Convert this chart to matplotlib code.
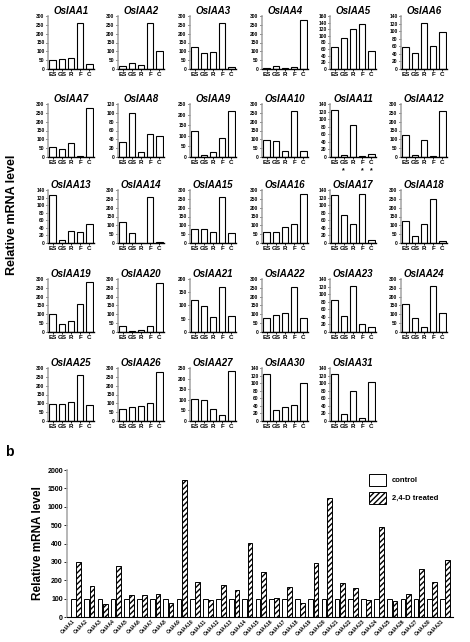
import matplotlib
matplotlib.use("Agg")
import matplotlib.pyplot as plt
import numpy as np

plt.rcParams['font.family'] = ['Liberation Sans', 'DejaVu Sans']

genes = ["OsIAA1","OsIAA2","OsIAA3","OsIAA4","OsIAA5","OsIAA6","OsIAA7","OsIAA8","OsIAA9","OsIAA10",
         "OsIAA11","OsIAA12","OsIAA13","OsIAA14","OsIAA15","OsIAA16","OsIAA17","OsIAA18","OsIAA19","OsIAA20",
         "OsIAA21","OsIAA22","OsIAA23","OsIAA24","OsIAA25","OsIAA26","OsIAA27","OsIAA30","OsIAA31"]
tissues = ["ES","GS","R","F","C"]
tissue_vals = [
 [50,57,62,260,30],[18,33,22,260,100],[125,92,97,260,10],[8,18,8,13,275],[65,93,120,135,53],[58,43,122,61,97],
 [55,45,82,5,278],[33,100,11,53,47],[125,8,22,88,218],[95,90,32,262,32],[125,5,85,2,7],[125,12,97,7,262],
 [127,8,32,30,50],[120,57,2,260,8],[78,78,60,258,55],[65,65,88,105,278],[127,75,51,129,7],[125,40,107,250,12],
 [103,48,65,160,282],[35,5,10,35,278],[120,98,57,170,60],[78,98,110,255,78],[85,42,122,20,12],[160,78,28,262,110],
 [97,97,107,258,92],[68,78,83,100,280],[103,100,57,28,237],[125,30,37,42,100],[125,18,78,7,103]]
ymaxes = [300,300,300,300,160,140,300,120,250,300,140,300,140,300,300,300,140,300,300,300,200,300,140,300,300,300,250,140,140]

control = [100]*29
treated = [300,170,70,275,120,120,125,75,1720,190,90,175,148,405,245,105,165,75,295,1230,185,160,92,490,88,125,262,190,310]

W, H = 470, 642
fig = plt.figure(figsize=(W/100, H/100), dpi=100)

def axpx(l, t, w, h):
    return fig.add_axes([l/W, 1-(t+h)/H, w/W, h/H])

col_left = [48, 118, 190, 262, 330, 401]
row_top = [16, 104, 190, 279, 368]
aw, ah = 46, 53
for i, g in enumerate(genes):
    r, c = divmod(i, 6)
    ax = axpx(col_left[c], row_top[r], aw, ah)
    x = np.arange(5)
    ax.bar(x, tissue_vals[i], width=0.7, color='white', edgecolor='black', linewidth=0.8)
    ax.set_xlim(-0.5, 4.5)
    ym = ymaxes[i]
    step = 50 if ym in (300, 250, 200) else 20
    ax.set_ylim(0, ym)
    ax.set_yticks(np.arange(0, ym+1, step))
    ax.set_xticks(x)
    ax.set_xticklabels(tissues)
    ax.tick_params(labelsize=3.5, length=1.5, width=0.6, pad=1)
    for lab in ax.get_xticklabels():
        lab.set_fontsize(4.5); lab.set_fontweight('bold')
    for lab in ax.get_yticklabels():
        lab.set_fontweight('bold')
    for s in ['top','right']:
        ax.spines[s].set_visible(False)
    ax.spines['left'].set_color('#aaaaaa'); ax.spines['left'].set_linewidth(1.2)
    ax.spines['bottom'].set_linewidth(1.0)
    ax.set_title(g, fontsize=7, fontweight='bold', fontstyle='italic', pad=1)
    if g == "OsIAA11":
        for xi in (1, 3, 4):
            ax.text(xi, -0.2*ym, '*', ha='center', va='top', fontsize=5, fontweight='bold')

fig.text(12/W, 1-215/H, "Relative mRNA level", rotation=90, ha='center', va='center', fontsize=9, fontweight='bold')
fig.text(5/W, 1-452/H, "b", fontsize=10, fontweight='bold', ha='left', va='center')

def fwd(y):
    y = np.asarray(y, float)
    return np.where(y <= 500, y, 500 + (y-500)/5)
def inv(y):
    y = np.asarray(y, float)
    return np.where(y <= 500, y, 500 + (y-500)*5)

ax = axpx(67, 470, 386, 147)
ax.set_yscale('function', functions=(fwd, inv))
x = np.arange(29)
bw = 0.36
ax.bar(x-bw/2-0.02, control, width=bw, color='white', edgecolor='black', linewidth=0.7, label='control')
ax.bar(x+bw/2+0.02, treated, width=bw, color='white', edgecolor='black', linewidth=0.7, hatch='//////', label='2,4-D treated')
ax.set_ylim(0, 2000)
ax.set_yticks([0,100,200,300,400,500,1000,1500,2000])
ax.set_xlim(-0.7, 28.6)
ax.set_xticks(x)
ax.set_xticklabels(genes, rotation=45, ha='right', fontsize=3.5, fontweight='bold')
ax.tick_params(axis='y', labelsize=5, length=2, width=0.6, pad=1)
ax.tick_params(axis='x', length=0, pad=1)
for lab in ax.get_yticklabels():
    lab.set_fontweight('bold')
for s in ['top','right']:
    ax.spines[s].set_visible(False)
ax.spines['left'].set_color('#aaaaaa'); ax.spines['left'].set_linewidth(1.2)
ax.set_ylabel("Relative mRNA level", fontsize=8.5, fontweight='bold', labelpad=2)
ax.legend(loc='upper right', bbox_to_anchor=(0.98, 1.02), frameon=False,
          prop={'weight':'bold', 'size':5.5}, handlelength=2.2, handleheight=2.0, labelspacing=0.8)

fig.savefig("out.png", dpi=100)
